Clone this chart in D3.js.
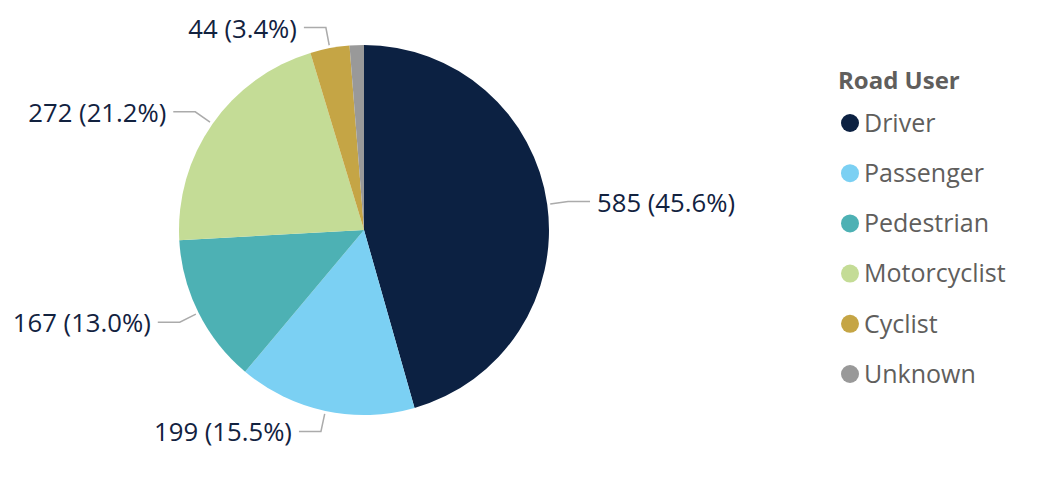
<!DOCTYPE html>
<html>
<head>
<meta charset="utf-8">
<script src="https://cdn.jsdelivr.net/npm/d3@7"></script>
<style>
html,body{margin:0;padding:0;background:#fff;}
svg{display:block;}
text{font-family:"Open Sans","Noto Sans",sans-serif;}
</style>
</head>
<body>
<svg id="chart" width="1044" height="478"></svg>
<script>
const categories = ["Driver","Passenger","Pedestrian","Motorcyclist","Cyclist","Unknown"];
const values = [585,199,167,272,44,16];
const colors = ["#0C2142","#7BD0F3","#4DB1B4","#C4DC96","#C5A545","#999999"];
const labels = ["585 (45.6%)","199 (15.5%)","167 (13.0%)","272 (21.2%)","44 (3.4%)",""];
const legendTitle = "Road User";

const svg = d3.select("#chart");
const cx = 364, cy = 230, R = 185;
const data = categories.map((c,i)=>({cat:c, value:values[i], color:colors[i], label:labels[i]}));

const pie = d3.pie().sort(null).value(d=>d.value);
const arcs = pie(data);
const arc = d3.arc().innerRadius(0).outerRadius(R);

const g = svg.append("g").attr("transform",`translate(${cx},${cy})`);
g.selectAll("path").data(arcs).join("path")
  .attr("d",arc).attr("fill",d=>d.data.color);

// leader lines and labels
const startArc = d3.arc().innerRadius(R+3).outerRadius(R+3);
const elbowArc = d3.arc().innerRadius(R+21).outerRadius(R+21);
arcs.forEach(a=>{
  if(!a.data.label) return;
  const mid = (a.startAngle+a.endAngle)/2;
  const p0 = startArc.centroid(a);
  const p1 = elbowArc.centroid(a);
  const right = mid < Math.PI;
  const p2 = [p1[0] + (right?22:-22), p1[1]];
  g.append("polyline")
    .attr("points",[p0,p1,p2].map(p=>p.join(",")).join(" "))
    .attr("fill","none").attr("stroke","#ABABAB").attr("stroke-width",1.5);
  g.append("text")
    .attr("x", p2[0] + (right?7:-7))
    .attr("y", p2[1] + 1)
    .attr("dy","0.35em")
    .attr("text-anchor", right?"start":"end")
    .attr("font-size",25.7)
    .attr("fill","#12223F")
    .text(a.data.label);
});

// legend
const lg = svg.append("g");
lg.append("text").attr("x",838).attr("y",89)
  .attr("font-size",24).attr("font-weight","bold").attr("fill","#605E5C")
  .text(legendTitle);
const item = lg.selectAll("g.item").data(data).join("g").attr("class","item")
  .attr("transform",(d,i)=>`translate(850,${123 + i*50.2})`);
item.append("circle").attr("r",9).attr("fill",d=>d.color);
item.append("text").attr("x",14).attr("dy","0.35em")
  .attr("font-size",25).attr("fill","#605E5C").text(d=>d.cat);
</script>
</body>
</html>
